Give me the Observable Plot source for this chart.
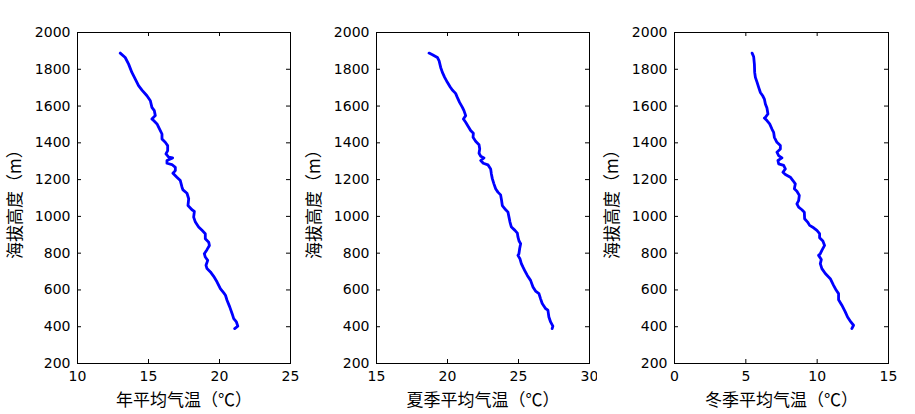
<!DOCTYPE html>
<html>
<head>
<meta charset="utf-8">
<script src="https://cdn.jsdelivr.net/npm/d3@7"></script>
<script src="https://cdn.jsdelivr.net/npm/@observablehq/plot@0.6"></script>
<style>
  body { margin: 0; background: #fff; }
  #charts { display: flex; width: 915px; height: 414px; }
  #charts svg { display: block; }
</style>
</head>
<body>
<div id="charts"></div>
<script>
// heights (m) and temperatures (°C), top to bottom
const annualH = [1888,1864,1828,1783,1747,1711,1687,1656,1629,1593,1575,1548,1530,1521,1503,1475,1448,1421,1403,1385,1358,1340,1322,1318,1304,1289,1282,1267,1249,1235,1213,1195,1159,1144,1126,1096,1059,1036,1027,996,969,942,924,906,878,860,842,819,797,779,761,734,716,698,674,643,607,584,571,544,508,471,444,426,403,390];
const annualT = [13.01,13.36,13.6,13.83,14.07,14.3,14.54,14.89,15.13,15.24,15.41,15.48,15.24,15.36,15.6,15.78,15.95,15.95,16.18,16.35,16.35,16.23,16.42,16.7,16.3,16.3,16.65,16.89,16.89,16.72,17.0,17.24,17.36,17.43,17.71,17.83,17.78,18.06,18.23,18.18,18.3,18.53,18.77,19.0,19.0,19.24,19.29,19.12,18.93,19.0,19.17,19.05,19.12,19.36,19.59,19.83,20.06,20.3,20.42,20.53,20.72,20.89,21.0,21.19,21.29,21.07];

const summerH = [1888,1879,1864,1846,1810,1783,1756,1729,1705,1687,1669,1647,1620,1593,1575,1548,1530,1512,1488,1467,1452,1430,1409,1390,1367,1343,1327,1318,1304,1289,1280,1258,1231,1204,1177,1150,1132,1117,1086,1059,1036,1023,996,969,942,924,909,888,866,851,824,797,788,770,743,725,707,679,652,616,594,580,553,526,499,490,453,426,403,390];
const summerT = [18.7,18.94,19.29,19.41,19.52,19.64,19.8,19.99,20.18,20.34,20.57,20.69,20.85,21.05,21.16,21.28,21.12,21.28,21.47,21.63,21.82,21.8,21.98,22.22,22.27,22.22,22.34,22.57,22.34,22.52,22.85,23.04,23.09,23.16,23.27,23.39,23.55,23.74,23.81,23.86,24.1,24.26,24.33,24.4,24.5,24.75,24.92,24.96,25.04,25.15,25.08,25.03,24.96,25.1,25.2,25.31,25.43,25.62,25.85,26.02,26.2,26.44,26.55,26.67,26.9,27.07,27.14,27.26,27.42,27.37];

const winterH = [1888,1868,1828,1783,1756,1729,1702,1674,1656,1638,1611,1589,1557,1539,1535,1521,1503,1475,1457,1430,1403,1385,1367,1349,1331,1318,1304,1286,1277,1258,1240,1228,1213,1195,1177,1150,1137,1114,1086,1068,1050,1036,1023,987,969,951,938,924,906,884,866,842,815,797,788,765,743,716,689,661,625,598,580,547,517,481,453,426,408,390];
const winterT = [5.44,5.55,5.6,5.62,5.67,5.79,5.9,6.02,6.18,6.3,6.37,6.48,6.55,6.37,6.3,6.48,6.67,6.83,6.95,7.0,7.18,7.42,7.42,7.18,7.3,7.53,7.25,7.3,7.65,7.77,7.6,7.77,8.12,8.3,8.47,8.4,8.58,8.75,8.7,8.58,8.7,8.93,9.1,9.12,9.33,9.47,9.75,9.98,10.17,10.17,10.4,10.52,10.33,10.22,10.1,10.29,10.22,10.33,10.57,10.92,11.15,11.34,11.5,11.5,11.73,11.97,12.13,12.36,12.55,12.43];

const yTicks = [200,400,600,800,1000,1200,1400,1600,1800,2000];
const annualTicks = [10,15,20,25];
const summerTicks = [15,20,25,30];
const winterTicks = [0,5,10,15];

const yLabel = "海拔高度（m）";
const xLabels = ["年平均气温（℃）", "夏季平均气温（℃）", "冬季平均气温（℃）"];

const H = 414, mt = 32, mb = 51, ml = 77;
const cjk = "'Noto Sans CJK SC', sans-serif";

function panel(hs, ts, xTicks, xLabel, width, mr) {
  const data = hs.map((h, i) => ({h, t: ts[i]}));
  const fw = width - ml - mr, fh = H - mt - mb;
  return Plot.plot({
    width, height: H,
    marginTop: mt, marginBottom: mb, marginLeft: ml, marginRight: mr,
    style: {fontFamily: "'DejaVu Sans', sans-serif", fontSize: "14px", background: "#fff", color: "#000"},
    x: {domain: [xTicks[0], xTicks[xTicks.length - 1]]},
    y: {domain: [200, 2000]},
    marks: [
      Plot.axisX(xTicks, {tickSize: 0, tickPadding: 8, tickFormat: d => String(d), label: null, fontSize: 14}),
      Plot.axisY(yTicks, {tickSize: 0, tickPadding: 7, tickFormat: d => String(d), label: null, fontSize: 14}),
      // inward ticks on all four sides
      Plot.tickY(yTicks, {y: d => d, insetRight: fw - 4, stroke: "#000"}),
      Plot.tickY(yTicks, {y: d => d, insetLeft: fw - 4, stroke: "#000"}),
      Plot.tickX(xTicks, {x: d => d, insetTop: fh - 4, stroke: "#000"}),
      Plot.tickX(xTicks, {x: d => d, insetBottom: fh - 4, stroke: "#000"}),
      Plot.frame({stroke: "#000"}),
      Plot.line(data, {x: "t", y: "h", stroke: "#0000ff", strokeWidth: 2.8}),
      Plot.text([yLabel], {text: d => d, frameAnchor: "left", textAnchor: "middle", rotate: -90, dx: -62, dy: 2, fontSize: 17, fontFamily: cjk}),
      Plot.text([xLabel], {text: d => d, frameAnchor: "bottom", textAnchor: "middle", dy: 42, fontSize: 17, fontFamily: cjk})
    ]
  });
}

const box = document.getElementById("charts");
box.append(panel(annualH, annualT, annualTicks, xLabels[0], 299, 9));
box.append(panel(summerH, summerT, summerTicks, xLabels[1], 298, 8));
box.append(panel(winterH, winterT, winterTicks, xLabels[2], 318, 27));
</script>
</body>
</html>
